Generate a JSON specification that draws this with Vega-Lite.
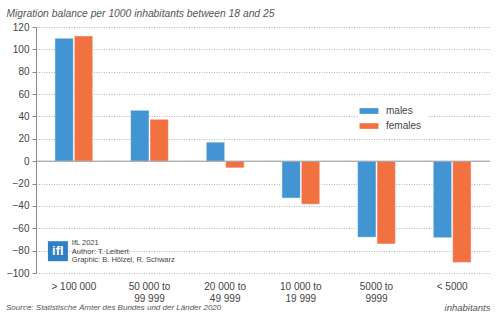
{
  "$schema": "https://vega.github.io/schema/vega-lite/v6.json",
  "width": 454,
  "height": 246,
  "padding": {"left": 6, "top": 8, "right": 10, "bottom": 6},
  "background": "white",
  "config": {
    "font": "Liberation Sans",
    "view": {"stroke": null}
  },
  "title": {
    "text": "Source: Statistische Ämter des Bundes und der Länder 2020",
    "orient": "bottom",
    "anchor": "start",
    "frame": "bounds",
    "fontSize": 8,
    "fontStyle": "italic",
    "fontWeight": "normal",
    "color": "#555555",
    "offset": -8
  },
  "datasets": {
    "bars": [
      {"cat": "> 100 000", "sex": "males", "value": 110},
      {"cat": "> 100 000", "sex": "females", "value": 112},
      {"cat": "50 000 to 99 999", "sex": "males", "value": 45.5},
      {"cat": "50 000 to 99 999", "sex": "females", "value": 37.5},
      {"cat": "20 000 to 49 999", "sex": "males", "value": 17},
      {"cat": "20 000 to 49 999", "sex": "females", "value": -6},
      {"cat": "10 000 to 19 999", "sex": "males", "value": -33},
      {"cat": "10 000 to 19 999", "sex": "females", "value": -38.5},
      {"cat": "5000 to 9999", "sex": "males", "value": -68},
      {"cat": "5000 to 9999", "sex": "females", "value": -74},
      {"cat": "< 5000", "sex": "males", "value": -68.5},
      {"cat": "< 5000", "sex": "females", "value": -90.5}
    ],
    "credits": [
      {"cat": "> 100 000", "line": "IfL 2021", "value": -73.6},
      {"cat": "> 100 000", "line": "Author: T. Leibert", "value": -81.2},
      {"cat": "> 100 000", "line": "Graphic: B. Hölzel, R. Schwarz", "value": -88.8}
    ],
    "logo": [
      {"cat": "> 100 000", "label": "ifl", "value": -80.5}
    ]
  },
  "encoding": {
    "x": {
      "field": "cat", "type": "nominal", "sort": null,
      "scale": {"paddingInner": 0.5, "paddingOuter": 0.25},
      "axis": {
        "title": "inhabitants",
        "titleAnchor": "end",
        "titleAlign": "right",
        "titleFontStyle": "italic",
        "titleFontWeight": "normal",
        "titleFontSize": 9.5,
        "titleColor": "#555555",
        "titleY": 29,
        "labelAngle": 0,
        "labelFontSize": 10,
        "labelColor": "#444444",
        "labelPadding": 8,
        "labelLineHeight": 12,
        "labelExpr": "indexof(datum.label,' to ')>0 ? [slice(datum.label,0,indexof(datum.label,' to ')+3), slice(datum.label,indexof(datum.label,' to ')+4)] : datum.label",
        "domain": false,
        "ticks": false
      }
    },
    "y": {
      "field": "value", "type": "quantitative",
      "scale": {"domain": [-100, 120], "nice": false},
      "axis": {
        "values": [-100, -80, -60, -40, -20, 0, 20, 40, 60, 80, 100, 120],
        "labelOverlap": false,
        "grid": true,
        "title": "Migration balance per 1000 inhabitants between 18 and 25",
        "titleAngle": 0,
        "titleAlign": "left",
        "titleBaseline": "bottom",
        "titleX": -30,
        "titleY": -9,
        "titleFontStyle": "italic",
        "titleFontWeight": "normal",
        "titleFontSize": 10.3,
        "titleColor": "#555555",
        "labelFontSize": 10,
        "labelColor": "#444444",
        "labelPadding": 3,
        "tickSize": 4,
        "tickColor": "#888888",
        "domainColor": "#888888",
        "gridColor": "#b4b4b4",
        "gridDash": [1, 1.5],
        "gridWidth": 1
      }
    }
  },
  "layer": [
    {
      "data": {"name": "bars"},
      "mark": {"type": "bar", "stroke": "white", "strokeOpacity": 0.6, "strokeWidth": 0.8},
      "encoding": {
        "xOffset": {"field": "sex", "type": "nominal", "sort": ["males", "females"], "scale": {"paddingInner": 0.05}},
        "color": {
          "field": "sex", "type": "nominal",
          "scale": {"domain": ["males", "females"], "range": ["#4394d3", "#f27141"]},
          "legend": {
            "title": null,
            "orient": "none",
            "legendX": 322,
            "legendY": 73,
            "fillColor": "white",
            "padding": 6,
            "symbolType": "M-2,-0.6H2V0.6H-2Z",
            "symbolSize": 90,
            "symbolStrokeWidth": 0,
            "labelFontSize": 10,
            "labelColor": "#444444",
            "labelOffset": 12,
            "rowPadding": 5,
            "offset": 0
          }
        }
      }
    },
    {
      "data": {"values": [{"value": 0}]},
      "mark": {"type": "rule", "color": "#999999", "strokeWidth": 1},
      "encoding": {"x": {"value": 0}, "x2": {"value": "width"}}
    },
    {
      "data": {"name": "logo"},
      "mark": {"type": "point", "shape": "square", "filled": true, "size": 400, "color": "#2f7fc4", "opacity": 1},
      "encoding": {"xOffset": {"value": 3}}
    },
    {
      "data": {"name": "logo"},
      "mark": {"type": "text", "color": "white", "fontWeight": "bold", "fontSize": 13, "align": "center", "baseline": "middle", "dx": -16},
      "encoding": {"text": {"field": "label"}}
    },
    {
      "data": {"name": "credits"},
      "mark": {"type": "text", "color": "#444444", "fontSize": 7.5, "align": "left", "baseline": "middle", "dx": -2},
      "encoding": {"text": {"field": "line"}}
    }
  ]
}
